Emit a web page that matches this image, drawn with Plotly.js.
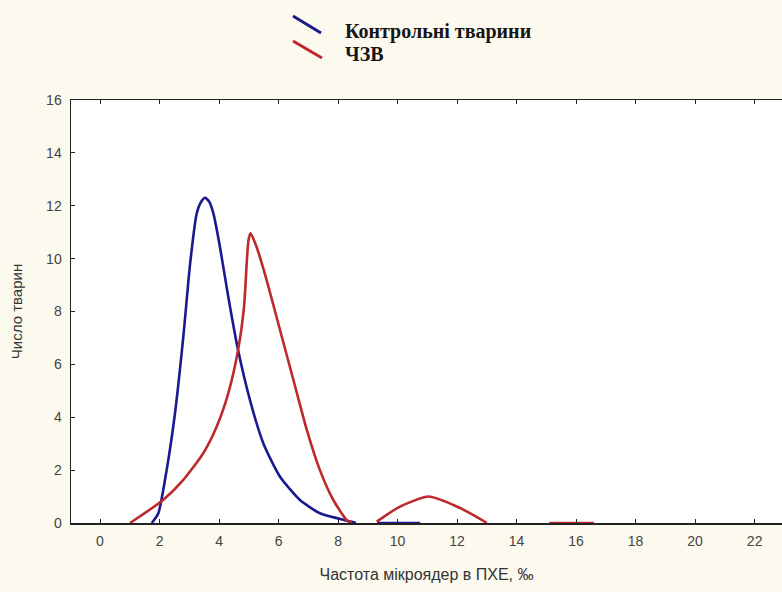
<!DOCTYPE html>
<html>
<head>
<meta charset="utf-8">
<script src="https://cdn.plot.ly/plotly-3.0.1.min.js"></script>
<style>
  html, body { margin: 0; padding: 0; background: #fcf9ee; }
  #chart { width: 782px; height: 592px; }
</style>
</head>
<body>
<div id="chart"></div>
<script>
// Series names
const seriesNames = ["Контрольні тварини", "ЧЗВ"];

// Control animals (blue) - null separates segments
const controlX = [1.74, 1.96, 2.24, 2.52, 2.80, 3.03, 3.25, 3.40, 3.53, 3.67, 3.81, 4.03, 4.31, 4.64, 5.04, 5.49, 6.05, 6.72, 7.39, 8.29, 8.6, null, 9.31, 10.76];
const controlY = [0.0, 0.37, 2.0, 4.15, 7.05, 9.83, 11.71, 12.15, 12.3, 12.15, 11.71, 10.45, 8.56, 6.54, 4.65, 3.01, 1.75, 0.87, 0.37, 0.09, 0.0, null, 0.0, 0.0];

// ЧЗВ (red)
const czvX = [1.01, 2.12, 2.80, 3.47, 3.92, 4.31, 4.64, 4.84, 4.93, 4.99, 5.06, 5.26, 5.60, 6.05, 6.50, 6.95, 7.39, 7.84, 8.29, 8.45, null,
              9.3, 10.08, 11.04, 11.88, 12.55, 13.0, null, 15.1, 16.6];
const czvY = [0.0, 0.87, 1.63, 2.64, 3.64, 4.9, 6.54, 8.18, 9.82, 10.7, 10.96, 10.45, 9.19, 7.3, 5.41, 3.52, 2.0, 0.87, 0.11, 0.0, null,
              0.05, 0.62, 1.0, 0.68, 0.3, 0.0, null, 0.0, 0.0];

// Axis ticks
const xTicks = [0, 2, 4, 6, 8, 10, 12, 14, 16, 18, 20, 22];
const yTicks = [0, 2, 4, 6, 8, 10, 12, 14, 16];

const colors = ["#1a1a8e", "#bd292d"];

const traces = [
  { x: controlX, y: controlY, name: seriesNames[0], mode: "lines", connectgaps: false, showlegend: false,
    line: { color: colors[0], width: 2.6, shape: "spline", smoothing: 0.6 } },
  { x: czvX, y: czvY, name: seriesNames[1], mode: "lines", connectgaps: false, showlegend: false,
    line: { color: colors[1], width: 2.6, shape: "spline", smoothing: 0.6 } }
];

const tickFont = { family: "Liberation Sans, Arial, sans-serif", size: 14, color: "#444444" };
const xTitleFont = { family: "Liberation Sans, Arial, sans-serif", size: 16, color: "#333333" };
const yTitleFont = { family: "Liberation Sans, Arial, sans-serif", size: 15, color: "#333333" };
const legendFont = { family: "Liberation Serif, Times New Roman, serif", size: 20, color: "#151515", weight: "bold" };

// Legend drawn as paper-space decoration (diagonal sample lines like the original)
function px2paperX(p) { return (p - 71) / 711; }
function px2paperY(p) { return (523 - p) / 423; }

const shapes = [
  { type: "line", xref: "paper", yref: "paper",
    x0: px2paperX(293), y0: px2paperY(16), x1: px2paperX(321), y1: px2paperY(33),
    line: { color: colors[0], width: 3 } },
  { type: "line", xref: "paper", yref: "paper",
    x0: px2paperX(293), y0: px2paperY(41), x1: px2paperX(322), y1: px2paperY(58),
    line: { color: colors[1], width: 3 } }
];

const annotations = [
  { xref: "paper", yref: "paper", x: px2paperX(343), y: px2paperY(31), xanchor: "left", yanchor: "middle",
    text: seriesNames[0], showarrow: false, font: legendFont },
  { xref: "paper", yref: "paper", x: px2paperX(343), y: px2paperY(54), xanchor: "left", yanchor: "middle",
    text: seriesNames[1], showarrow: false, font: legendFont }
];

const layout = {
  width: 782, height: 592,
  paper_bgcolor: "#fcf9ee",
  plot_bgcolor: "#ffffff",
  margin: { l: 71, r: 0, t: 100, b: 69 },
  showlegend: false,
  shapes: shapes,
  annotations: annotations,
  xaxis: {
    range: [-0.975, 22.92],
    tickvals: xTicks, ticktext: xTicks.map(String),
    ticks: "inside", ticklen: 4, tickcolor: "#222",
    ticklabelstandoff: 5,
    showline: true, linecolor: "#222", linewidth: 1.5, mirror: "ticks",
    showgrid: false, zeroline: false,
    tickfont: tickFont,
    title: { text: "Частота мікроядер в ПХЕ, ‰", font: xTitleFont, standoff: 20 }
  },
  yaxis: {
    range: [0, 16],
    tickvals: yTicks, ticktext: yTicks.map(String),
    ticks: "inside", ticklen: 4, tickcolor: "#222",
    ticklabelstandoff: 5,
    showline: true, linecolor: "#222", linewidth: 1.5, mirror: false,
    showgrid: false, zeroline: false,
    tickfont: tickFont,
    title: { text: "Число тварин", font: yTitleFont, standoff: 20 }
  }
};

Plotly.newPlot("chart", traces, layout, { displayModeBar: false, staticPlot: true });
</script>
</body>
</html>
